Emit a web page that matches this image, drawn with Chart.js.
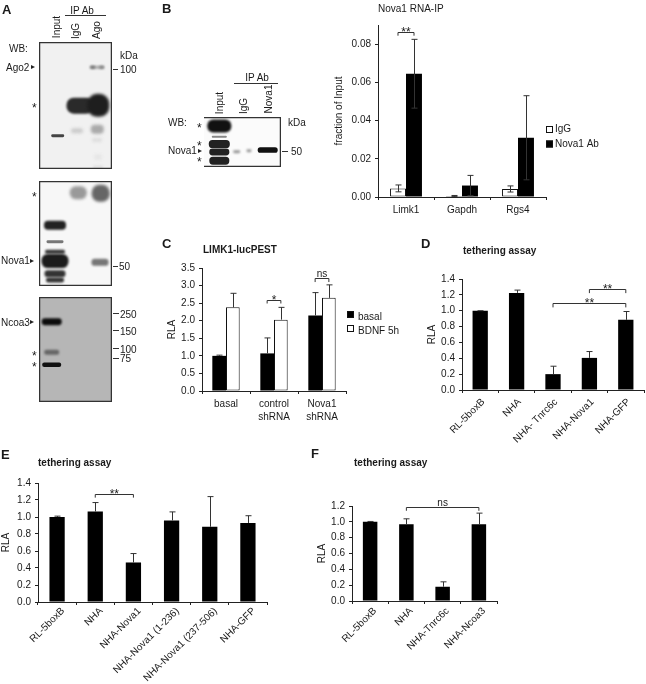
<!DOCTYPE html>
<html>
<head>
<meta charset="utf-8">
<script src="https://cdn.jsdelivr.net/npm/chart.js@4/dist/chart.umd.min.js"></script>
<style>
  html, body { margin: 0; background: #fff; overflow: hidden; }
  #fig { position: relative; width: 646px; height: 684px; overflow: hidden; filter: blur(0.35px); }
  canvas { position: absolute; }
  .t { position: absolute; white-space: nowrap; font: 10px "Liberation Sans", sans-serif; color: #1a1a1a; }
  .dash { position: absolute; background: #333; height: 1px; }
  .tri { position: absolute; width: 4px; height: 4px; background: #222; clip-path: polygon(0 0, 100% 50%, 0 100%); }
</style>
</head>
<body>
<div id="fig"></div>
<script>
// panel B, RNA-IP
const bCategories = ["Limk1", "Gapdh", "Rgs4"];
const bIgG = [0.0045, 0.0005, 0.0042];
const bIgGErr = [0.0018, 0.0003, 0.0016];
const bNova = [0.0645, 0.006, 0.031];
const bNovaErr = [0.018, 0.0053, 0.022];
const bTicks = [0, 0.02, 0.04, 0.06, 0.08];

// panel C, luciferase
const cCategories = ["basal", ["control", "shRNA"], ["Nova1", "shRNA"]];
const cBasal = [1.0, 1.07, 2.15];
const cBasalErr = [0.02, 0.44, 0.65];
const cBdnf = [2.38, 2.03, 2.65];
const cBdnfErr = [0.4, 0.35, 0.37];
const cTicks = [0, 0.5, 1, 1.5, 2, 2.5, 3, 3.5];

// panel D, tethering
const dCategories = ["RL-5boxB", "NHA", "NHA- Tnrc6c", "NHA-Nova1", "NHA-GFP"];
const dValues = [1.0, 1.225, 0.2, 0.405, 0.885];
const dErr = [0, 0.035, 0.1, 0.08, 0.105];

// panel E, tethering
const eCategories = ["RL-5boxB", "NHA", "NHA-Nova1", "NHA-Nova1 (1-236)", "NHA-Nova1 (237-506)", "NHA-GFP"];
const eValues = [1.0, 1.065, 0.465, 0.96, 0.885, 0.93];
const eErr = [0.01, 0.105, 0.105, 0.1, 0.355, 0.085];

// panel F, tethering
const fCategories = ["RL-5boxB", "NHA", "NHA-Tnrc6c", "NHA-Ncoa3"];
const fValues = [1.0, 0.97, 0.18, 0.97];
const fErr = [0.005, 0.068, 0.062, 0.14];

const rlaTicks14 = [0, 0.2, 0.4, 0.6, 0.8, 1, 1.2, 1.4];
const rlaTicks12 = [0, 0.2, 0.4, 0.6, 0.8, 1, 1.2];

// blot bands: lane position, migration, band width, band height, grey, blur
const bandsA1 = [
  [18.7, 93.7, 13, 3, "#444", 0.7], [41, 63.7, 27, 16, "#2a2a2a", 1.2], [59.3, 63.3, 22, 23, "#1e1e1e", 1.5],
  [58, 25.3, 14, 3, "#aaa", 0.8], [53.7, 25.3, 5, 3, "#777", 0.8], [62.7, 25.3, 5, 3, "#888", 0.8], [38, 88.7, 12, 5, "#ccc", 1.5],
  [58.3, 87.3, 13, 9, "#aaa", 1.5], [58, 98, 10, 4, "#ddd", 1.5], [59, 115, 8, 6, "#e6e6e6", 1.5], [59, 125, 10, 3, "#e0e0e0", 1]
];
const bandsA2 = [
  [39.3, 11.7, 17, 13, "#999", 1.5], [61.7, 12.3, 18, 17, "#666", 1.5], [16, 44.3, 22, 9, "#222", 1],
  [16, 60.7, 17, 3, "#777", 0.7], [16, 70.7, 20, 4, "#333", 0.8], [16, 80, 27, 14, "#1c1c1c", 1],
  [16, 92.7, 21, 7, "#333", 0.8], [16, 99, 18, 5, "#333", 0.8], [61, 81.3, 17, 7, "#777", 1.2]
];
const bandsA3 = [[12.7, 24.7, 20, 7, "#0c0c0c", 0.8], [12.7, 55.3, 15, 5, "#666", 1], [12.7, 67.7, 19, 4.5, "#111", 0.7]];
const bandsB = [
  [15.3, 9, 24, 13, "#111", 1], [15.3, 19.7, 15, 2, "#888", 0.7], [15.3, 27, 21, 8, "#222", 0.7],
  [15.3, 35, 20, 7, "#222", 0.7], [15.3, 43.7, 20, 8, "#222", 0.7], [32.7, 34.7, 7, 3, "#999", 0.8],
  [45, 33.7, 5, 3, "#999", 0.8], [63.7, 33, 20, 5.7, "#111", 0.7]
];

const fig = document.getElementById("fig");
Chart.defaults.font.family = '"Liberation Sans", sans-serif';
Chart.defaults.font.size = 10;
Chart.defaults.color = "#1a1a1a";

// text placed on the page, x is the left edge (or centre with c), y the middle
function txt(s, x, y, o = {}) {
  const d = document.createElement("div");
  d.className = "t";
  d.textContent = s;
  d.style.left = x + "px";
  d.style.top = y + "px";
  let tr = (o.c ? "translate(-50%,-50%)" : "translateY(-50%)");
  if (o.rot) tr = "translate(-50%,-50%) rotate(-90deg)";
  d.style.transform = tr;
  if (o.b) d.style.fontWeight = "bold";
  if (o.size) d.style.fontSize = o.size + "px";
  fig.appendChild(d);
}
function dash(x, y, w) {
  const d = document.createElement("div");
  d.className = "dash";
  d.style.cssText = `left:${x}px;top:${y}px;width:${w}px`;
  fig.appendChild(d);
}
function tri(x, y) {
  const d = document.createElement("div");
  d.className = "tri";
  d.style.left = x + "px";
  d.style.top = y - 2 + "px";
  fig.appendChild(d);
}

function newCanvas(l, t, w, h) {
  const c = document.createElement("canvas");
  c.width = w; c.height = h;
  c.style.left = l + "px"; c.style.top = t + "px";
  c.style.width = w + "px"; c.style.height = h + "px";
  fig.appendChild(c);
  return c;
}

// error bars, brackets and legend all go through the scales of the chart
function marksPlugin(p) {
  return {
    id: "marks",
    afterDatasetsDraw(chart) {
      const ctx = chart.ctx, xs = chart.scales.x, ys = chart.scales.y;
      ctx.save();
      ctx.strokeStyle = "#333";
      ctx.lineWidth = 1;
      p.errs.forEach((arr, i) => {
        const meta = chart.getDatasetMeta(i);
        const vals = chart.data.datasets[i].data;
        arr.forEach((e, j) => {
          const x = Math.round(meta.data[j].x) + 0.5;
          const hi = ys.getPixelForValue(vals[j] + e);
          const lo = p.both ? ys.getPixelForValue(vals[j] - e) : meta.data[j].y;
          ctx.beginPath();
          ctx.moveTo(x, lo); ctx.lineTo(x, hi);
          ctx.moveTo(x - 3, hi); ctx.lineTo(x + 3, hi);
          if (p.both) { ctx.moveTo(x - 3, lo); ctx.lineTo(x + 3, lo); }
          ctx.stroke();
        });
      });
      (p.brackets || []).forEach(b => {
        const x1 = xs.getPixelForValue(b.a), x2 = xs.getPixelForValue(b.b);
        const y = Math.round(ys.getPixelForValue(b.y)) + 0.5;
        const leg = ys.getPixelForValue(b.y - b.leg) - y;
        ctx.beginPath();
        ctx.moveTo(x1, y + leg); ctx.lineTo(x1, y); ctx.lineTo(x2, y); ctx.lineTo(x2, y + leg);
        ctx.stroke();
        ctx.fillStyle = "#1a1a1a";
        ctx.textAlign = "center";
        ctx.font = b.text === "ns" ? '10px "Liberation Sans"' : '12px "Liberation Sans"';
        ctx.fillText(b.text, (x1 + x2) / 2, b.text === "ns" ? y - 2 : y + 3);
      });
      if (p.legend) {
        const lg = p.legend;
        ctx.textAlign = "left";
        ctx.textBaseline = "middle";
        ctx.font = '10px "Liberation Sans"';
        chart.data.datasets.forEach((ds, i) => {
          const y = lg.y - p.canvasTop + i * lg.dy, x = lg.x - p.canvasLeft;
          ctx.fillStyle = ds.backgroundColor;
          ctx.fillRect(x, y, 7, 7);
          ctx.strokeStyle = "#111";
          ctx.strokeRect(x + 0.5, y + 0.5, 6, 6);
          ctx.fillStyle = "#1a1a1a";
          ctx.fillText(ds.label, x + 9 + (lg.tx || 0), y + 3.5 + (lg.ty || 0));
        });
      }
      ctx.restore();
    }
  };
}

function barChart(o) {
  const cl = o.titleX - 6, ct = o.top - 10;
  const w = o.right + o.padR - cl, h = o.bottom + o.xH - ct;
  const canvas = newCanvas(cl, ct, w, h);
  const axisGrid = { drawOnChartArea: false, color: "#222", tickLength: 3 };
  new Chart(canvas, {
    type: "bar",
    data: { labels: o.labels, datasets: o.series.map(s => ({
      label: s.label, data: s.data, backgroundColor: s.color, borderColor: "#111",
      borderWidth: s.color === "#fff" ? 1 : 0, barPercentage: 1, categoryPercentage: o.pct, borderSkipped: false
    })) },
    options: {
      responsive: false, animation: false,
      layout: { autoPadding: false, padding: { top: 10, right: o.padR, left: 0, bottom: 0 } },
      plugins: { legend: { display: false }, tooltip: { enabled: false } },
      scales: {
        x: {
          grid: { ...axisGrid, offset: true },
          border: { color: "#222" },
          ticks: {
            autoSkip: false, maxRotation: o.rot, minRotation: o.rot, padding: o.tickPad,
            labelOffset: o.labelShift, color: "#1a1a1a", font: { lineHeight: 1.25 }
          },
          afterFit(s) { s.height = o.xH; }
        },
        y: {
          min: 0, max: o.max,
          grid: axisGrid,
          border: { color: "#222" },
          title: { display: true, text: o.yTitle, padding: 0, color: "#1a1a1a" },
          ticks: { padding: 4, color: "#1a1a1a", callback: v => v.toFixed(o.dec) },
          afterBuildTicks(s) { s.ticks = o.ticks.map(v => ({ value: v })); },
          afterFit(s) { s.width = o.ax - cl; }
        }
      }
    },
    plugins: [marksPlugin({ ...o.marks, errs: o.series.map(s => s.err), canvasLeft: cl, canvasTop: ct })]
  });
}

function blot(l, t, w, h, bands, bg, leftEdge) {
  const canvas = newCanvas(l, t, w, h);
  new Chart(canvas, {
    type: "scatter",
    data: { datasets: [{ data: bands.map(b => ({ x: b[0], y: b[1] })), pointRadius: 0 }] },
    options: {
      responsive: false, animation: false,
      layout: { autoPadding: false },
      plugins: { legend: { display: false }, tooltip: { enabled: false } },
      scales: {
        x: { display: false, min: 0, max: w },
        y: { display: false, min: 0, max: h, reverse: true }
      }
    },
    plugins: [{
      id: "bands",
      beforeDatasetsDraw(chart) {
        const ctx = chart.ctx, xs = chart.scales.x, ys = chart.scales.y;
        ctx.save();
        ctx.fillStyle = bg;
        ctx.fillRect(0, 0, w, h);
        bands.forEach(b => {
          const bw = xs.getPixelForValue(b[2]) - xs.getPixelForValue(0);
          const bh = ys.getPixelForValue(b[3]) - ys.getPixelForValue(0);
          ctx.filter = `blur(${b[5]}px)`;
          ctx.fillStyle = b[4];
          ctx.beginPath();
          // band is a lozenge, a plain ellipse came out too thin
          ctx.roundRect(xs.getPixelForValue(b[0]) - bw / 2, ys.getPixelForValue(b[1]) - bh / 2, bw, bh, Math.min(bw, bh) * 0.45);
          ctx.fill();
        });
        ctx.filter = "none";
        ctx.strokeStyle = "#333";
        ctx.lineWidth = 1.5;
        ctx.beginPath();
        ctx.moveTo(0, 0.5); ctx.lineTo(w, 0.5);
        ctx.moveTo(w - 0.5, 0); ctx.lineTo(w - 0.5, h);
        ctx.moveTo(w, h - 0.5); ctx.lineTo(0, h - 0.5);
        if (leftEdge) { ctx.moveTo(0.5, h); ctx.lineTo(0.5, 0); }
        ctx.stroke();
        ctx.restore();
      }
    }]
  });
}

// western blots
blot(39, 42, 73, 127, bandsA1, "#f1f1f1", true);
blot(39, 181, 73, 105, bandsA2, "#f7f7f7", true);
blot(39, 297, 73, 105, bandsA3, "#b6b6b6", true);
blot(204, 117, 77, 50, bandsB, "#fbfbfb", false);

// bar panels
barChart({
  labels: bCategories, titleX: 339, ax: 378, top: 25, right: 546, bottom: 197, xH: 26, padR: 60,
  max: 0.09, ticks: bTicks, dec: 2, yTitle: "fraction of Input", pct: 0.57, rot: 0, tickPad: 4, labelShift: 0,
  series: [
    { label: "IgG", data: bIgG, err: bIgGErr, color: "#fff" },
    { label: "Nova1 Ab", data: bNova, err: bNovaErr, color: "#000" }
  ],
  marks: {
    both: true,
    legend: { x: 546, y: 126, dy: 14.5, tx: 0 },
    brackets: [{ a: -0.143, b: 0.143, y: 0.0861, leg: 0.0017, text: "**" }]
  }
});
barChart({
  labels: cCategories, titleX: 172, ax: 202, top: 268, right: 346, bottom: 391, xH: 40, padR: 60,
  max: 3.5, ticks: cTicks, dec: 1, yTitle: "RLA", pct: 0.57, rot: 0, tickPad: 4, labelShift: 0,
  series: [
    { label: "basal", data: cBasal, err: cBasalErr, color: "#000" },
    { label: "BDNF 5h", data: cBdnf, err: cBdnfErr, color: "#fff" }
  ],
  marks: {
    legend: { x: 347, y: 311, dy: 14, tx: 2, ty: 3 },
    brackets: [
      { a: 0.857, b: 1.143, y: 2.6, leg: 0.11, text: "*" },
      { a: 1.857, b: 2.143, y: 3.22, leg: 0.12, text: "ns" }
    ]
  }
});
barChart({
  labels: dCategories, titleX: 432, ax: 462, top: 279, right: 644, bottom: 390, xH: 62, padR: 2,
  max: 1.4, ticks: rlaTicks14, dec: 1, yTitle: "RLA", pct: 0.42, rot: 45, tickPad: 3, labelShift: 3,
  series: [{ label: "RLA", data: dValues, err: dErr, color: "#000" }],
  marks: {
    brackets: [
      { a: 3, b: 4, y: 1.277, leg: 0.055, text: "**" },
      { a: 2, b: 4, y: 1.097, leg: 0.055, text: "**" }
    ]
  }
});
barChart({
  labels: eCategories, titleX: 6, ax: 38, top: 483, right: 267, bottom: 602, xH: 82, padR: 5,
  max: 1.4, ticks: rlaTicks14, dec: 1, yTitle: "RLA", pct: 0.4, rot: 45, tickPad: 0, labelShift: 6,
  series: [{ label: "RLA", data: eValues, err: eErr, color: "#000" }],
  marks: { brackets: [{ a: 1, b: 2, y: 1.275, leg: 0.047, text: "**" }] }
});
barChart({
  labels: fCategories, titleX: 322, ax: 352, top: 506, right: 497, bottom: 601, xH: 62, padR: 5,
  max: 1.2, ticks: rlaTicks12, dec: 1, yTitle: "RLA", pct: 0.4, rot: 45, tickPad: 1, labelShift: 5,
  series: [{ label: "RLA", data: fValues, err: fErr, color: "#000" }],
  marks: { brackets: [{ a: 1, b: 3, y: 1.19, leg: 0.05, text: "ns" }] }
});

// panel letters and titles
txt("A", 2, 9, { b: 1, size: 13 });
txt("B", 162, 8, { b: 1, size: 13 });
txt("C", 162, 243, { b: 1, size: 13 });
txt("D", 421, 243, { b: 1, size: 13 });
txt("E", 1, 454, { b: 1, size: 13 });
txt("F", 311, 453, { b: 1, size: 13 });
txt("Nova1 RNA-IP", 378, 8);
txt("LIMK1-lucPEST", 203, 249, { b: 1 });
txt("tethering assay", 463, 250, { b: 1 });
txt("tethering assay", 38, 462, { b: 1 });
txt("tethering assay", 354, 462, { b: 1 });

// labels around blot A
txt("IP Ab", 82, 10, { c: 1 });
dash(65, 15, 41);
txt("Input", 56, 27, { rot: 1 });
txt("IgG", 75, 31, { rot: 1 });
txt("Ago", 96, 30, { rot: 1 });
txt("WB:", 9, 48);
txt("kDa", 120, 55);
txt("Ago2", 6, 67); tri(31, 67);
dash(113, 69, 5); txt("100", 120, 69);
txt("*", 32, 108, { size: 12 });
txt("*", 32, 197, { size: 12 });
txt("Nova1", 1, 260); tri(30, 261);
dash(113, 266, 5); txt("50", 119, 266);
txt("Ncoa3", 1, 322); tri(30, 322);
txt("*", 32, 356, { size: 12 });
txt("*", 32, 367, { size: 12 });
dash(113, 313, 6); txt("250", 120, 314);
dash(113, 330, 6); txt("150", 120, 331);
dash(113, 348, 6); txt("100", 120, 349);
dash(113, 358, 6); txt("75", 120, 358);

// labels around blot B
txt("IP Ab", 257, 77, { c: 1 });
dash(234, 83, 44);
txt("Input", 219, 103, { rot: 1 });
txt("IgG", 243, 106, { rot: 1 });
txt("Nova1", 268, 99, { rot: 1 });
txt("WB:", 168, 122);
txt("kDa", 288, 122);
txt("Nova1", 168, 150);
txt("*", 197, 128, { size: 12 });
txt("*", 197, 146, { size: 12 });
txt("*", 197, 162, { size: 12 });
tri(198, 151);
dash(282, 151, 6); txt("50", 291, 151);
</script>
</body>
</html>
